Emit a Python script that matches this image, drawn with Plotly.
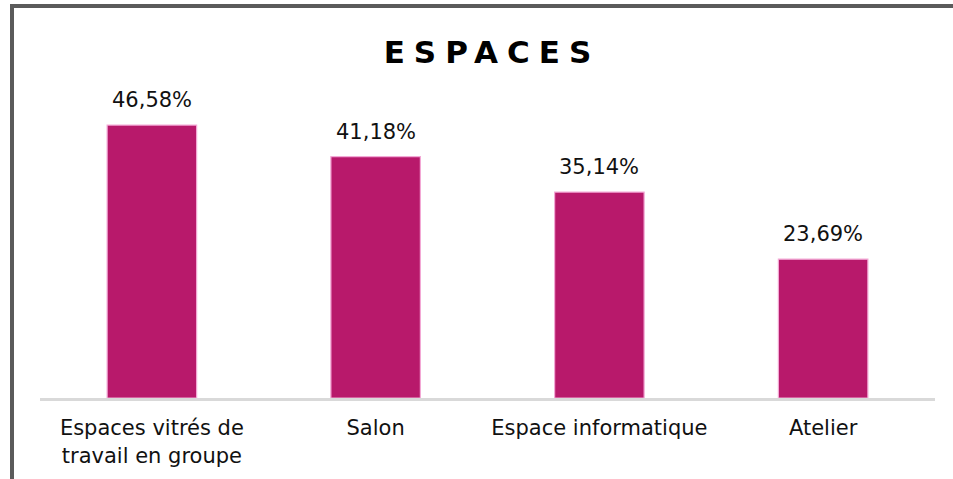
import plotly.graph_objects as go

categories = ["Espaces vitrés de<br>travail en groupe", "Salon", "Espace informatique", "Atelier"]
values = [46.58, 41.18, 35.14, 23.69]
labels = ["46,58%", "41,18%", "35,14%", "23,69%"]
title_text = "ESPACES"

W, H = 953, 479
ML, MR, MT, MB = 40, 18, 105, 81
pw = W - ML - MR
ph = H - MT - MB

def px_x(p):
    return (p - ML) / pw

def px_y(p):
    return (H - MB - p) / ph

fig = go.Figure()
fig.add_trace(go.Bar(
    x=categories, y=values,
    marker=dict(color="#b8196b", line=dict(color="#f3a9d6", width=1.2)),
    width=0.4,
    hoverinfo="skip",
))

for c, v, t in zip(categories, values, labels):
    fig.add_annotation(x=c, y=v, text=t, showarrow=False, yanchor="bottom",
                       yshift=11, font=dict(family="DejaVu Sans", size=21, color="#111"))

border = "#5b5b5b"
fig.add_shape(type="line", xref="paper", yref="paper",
              x0=px_x(12), x1=px_x(12), y0=px_y(4), y1=px_y(H + 5),
              line=dict(color=border, width=4))
fig.add_shape(type="line", xref="paper", yref="paper",
              x0=px_x(10), x1=px_x(W + 5), y0=px_y(6), y1=px_y(6),
              line=dict(color=border, width=4))

fig.update_layout(
    width=W, height=H,
    margin=dict(l=ML, r=MR, t=MT, b=MB),
    paper_bgcolor="white", plot_bgcolor="white",
    showlegend=False,
    font=dict(family="DejaVu Sans", size=21, color="#111"),
    title=dict(text="<b><span style='letter-spacing:9px'>" + title_text + "</span></b>",
               x=0.5 + 4.5 / pw, xanchor="center", xref="paper",
               y=1 - 52 / H, yanchor="middle", yref="container",
               font=dict(family="DejaVu Sans", size=31, color="#000")),
    xaxis=dict(showline=True, linecolor="#d9d9d9", linewidth=3, showgrid=False,
               ticks="", ticklabelstandoff=9,
               tickfont=dict(size=21, color="#111"), fixedrange=True),
    yaxis=dict(visible=False, range=[0, 50], showgrid=False, zeroline=False),
)

fig.write_html("out.html", config={"displayModeBar": False},
               post_script="document.body.style.margin='0';")
